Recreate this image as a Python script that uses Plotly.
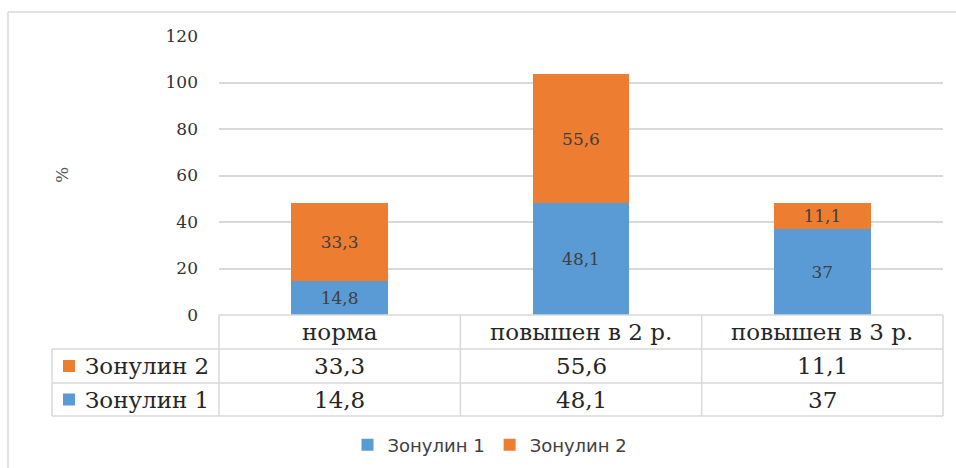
import plotly.graph_objects as go

categories = ["норма", "повышен в 2 р.", "повышен в 3 р."]
series_names = ["Зонулин 1", "Зонулин 2"]
zonulin1 = [14.8, 48.1, 37]
zonulin2 = [33.3, 55.6, 11.1]
y_ticks = [0, 20, 40, 60, 80, 100, 120]
y_title = "%"

BLUE = "#5B9BD5"
ORANGE = "#ED7D31"
GRID = "#d9d9d9"
SERIF = "DejaVu Serif"
SANS = "DejaVu Sans"

W, H = 956, 468
ML, MR, MT, MB = 219, 13, 36, 153
PW, PH = W - ML - MR, H - MT - MB


def px(X):
    return (X - ML) / PW


def py(Y):
    return (H - MB - Y) / PH


def fmt(v):
    return f"{v:g}".replace(".", ",")


fig = go.Figure()
for name, vals, col in [(series_names[0], zonulin1, BLUE), (series_names[1], zonulin2, ORANGE)]:
    fig.add_trace(go.Bar(
        x=categories, y=vals, name=name, marker=dict(color=col, line=dict(width=0)),
        width=0.4, text=[fmt(v) for v in vals], textposition="inside",
        insidetextanchor="middle", textangle=0, constraintext="none",
        textfont=dict(family=SERIF, size=17, color="#404040"),
        hoverinfo="skip",
    ))

shapes = []
line = dict(color=GRID, width=1.5)
# chart outer border (top and left)
shapes.append(dict(type="line", xref="paper", yref="paper", x0=px(8), x1=px(W), y0=py(12), y1=py(12), line=line))
shapes.append(dict(type="line", xref="paper", yref="paper", x0=px(8), x1=px(8), y0=py(12), y1=py(H), line=line))
# table rows
row_edges = [315, 349, 383, 416]
shapes.append(dict(type="line", xref="paper", yref="paper", x0=0, x1=1, y0=py(row_edges[0]), y1=py(row_edges[0]), line=line))
for ye in row_edges[1:]:
    shapes.append(dict(type="line", xref="paper", yref="paper", x0=px(52), x1=1, y0=py(ye), y1=py(ye), line=line))
# table columns
shapes.append(dict(type="line", xref="paper", yref="paper", x0=px(52), x1=px(52), y0=py(row_edges[1]), y1=py(row_edges[3]), line=line))
shapes.append(dict(type="line", xref="paper", yref="paper", x0=0, x1=0, y0=py(row_edges[0]), y1=py(row_edges[3]), line=line))
shapes.append(dict(type="line", xref="paper", yref="paper", x0=1, x1=1, y0=py(row_edges[0]), y1=py(row_edges[3]), line=line))
for i in range(len(categories) - 1):
    shapes.append(dict(type="line", xref="x", yref="paper", x0=i + 0.5, x1=i + 0.5, y0=py(row_edges[0]), y1=py(row_edges[3]), line=line))

annotations = []
tfont = dict(family=SERIF, size=23, color="#262626")
row_centers = [(row_edges[i] + row_edges[i + 1]) / 2 for i in range(3)]
for c in categories:
    annotations.append(dict(x=c, y=py(row_centers[0]), xref="x", yref="paper", text=c, showarrow=False,
                            yanchor="middle", font=tfont))
table_rows = [(series_names[1], zonulin2, ORANGE), (series_names[0], zonulin1, BLUE)]
for r, (name, vals, col) in enumerate(table_rows):
    yc = py(row_centers[r + 1])
    annotations.append(dict(x=px(83), y=yc, xref="paper", yref="paper", text=name, showarrow=False,
                            xanchor="left", yanchor="middle", font=tfont))
    shapes.append(dict(type="rect", xref="paper", yref="paper", x0=px(63), x1=px(75),
                       y0=py(row_centers[r + 1] + 6), y1=py(row_centers[r + 1] - 6),
                       fillcolor=col, line=dict(width=0)))
    for c, v in zip(categories, vals):
        annotations.append(dict(x=c, y=yc, xref="x", yref="paper", text=fmt(v), showarrow=False,
                                yanchor="middle", font=tfont))

annotations.append(dict(x=px(50), y=py(175), xref="paper", yref="paper", text=y_title, textangle=-90,
                        showarrow=False, font=dict(family=SERIF, size=17, color="#595959")))

fig.update_layout(
    width=W, height=H, margin=dict(l=ML, r=MR, t=MT, b=MB, autoexpand=False),
    paper_bgcolor="white", plot_bgcolor="white",
    barmode="stack", bargap=0.6,
    showlegend=True,
    legend=dict(orientation="h", x=px(490), y=py(445), xanchor="center", yanchor="middle",
                font=dict(family=SANS, size=18, color="#404040"), traceorder="normal"),
    xaxis=dict(range=[-0.5, 2.5], showticklabels=False, showgrid=False, zeroline=False, showline=False,
               fixedrange=True),
    yaxis=dict(range=[0, 120], tickvals=y_ticks, showgrid=True, gridcolor=GRID, gridwidth=1.5,
               zeroline=False, showline=False, ticklabelstandoff=20,
               tickfont=dict(family=SERIF, size=17, color="#333333"), fixedrange=True),
    uniformtext=dict(minsize=17, mode="show"),
    shapes=shapes, annotations=annotations,
)

fig.write_html("out.html")
